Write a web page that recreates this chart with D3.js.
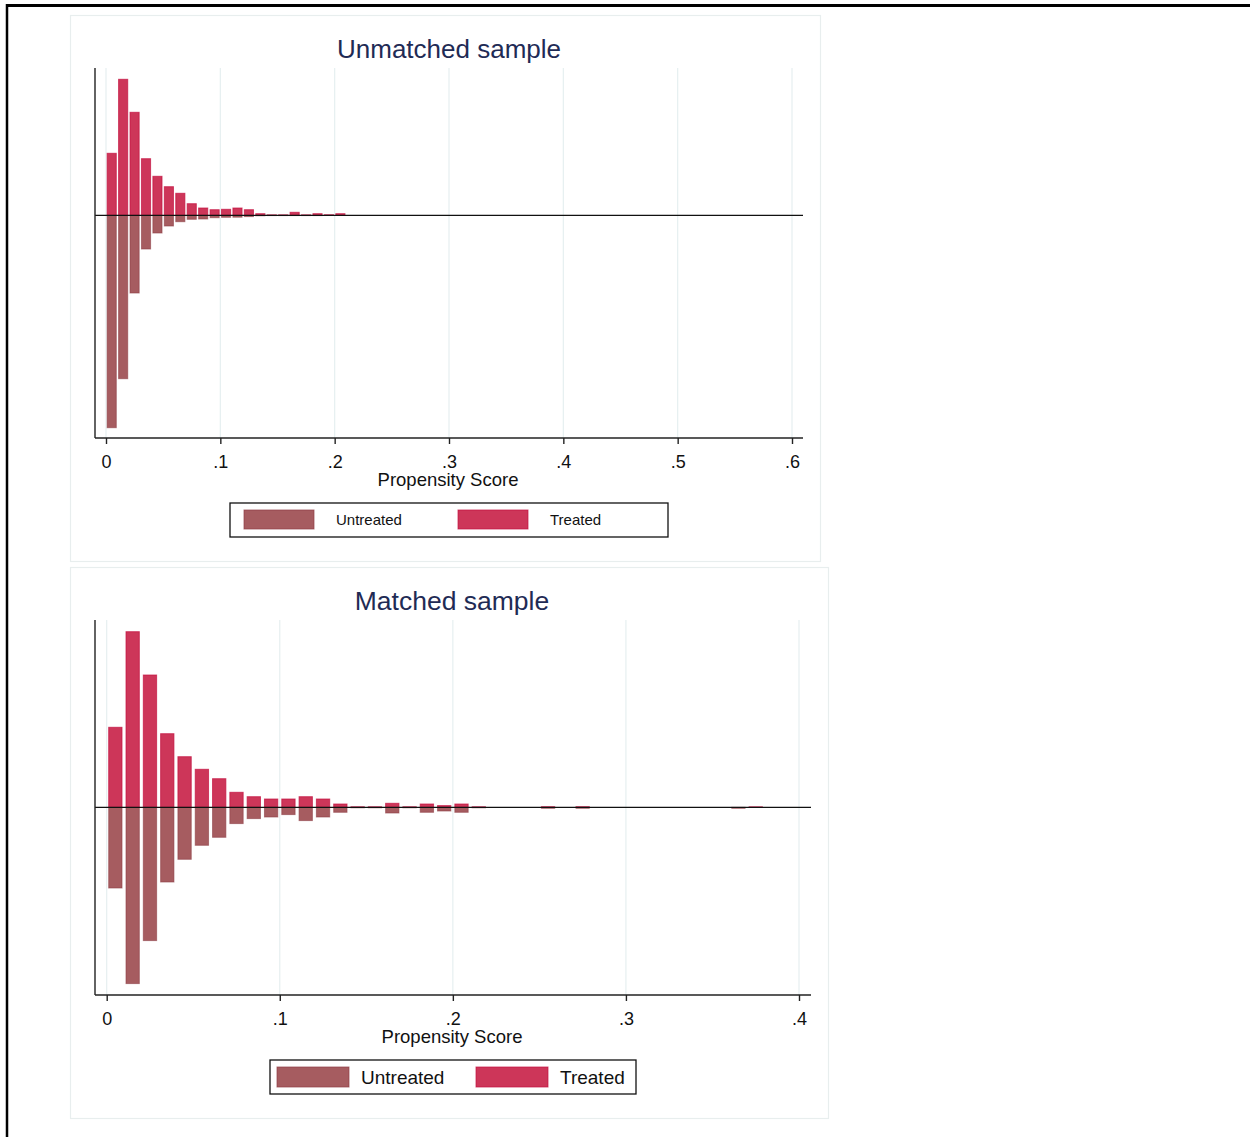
<!DOCTYPE html>
<html><head><meta charset="utf-8">
<script src="https://cdn.jsdelivr.net/npm/d3@7"></script>
<style>body{margin:0;background:#fff}svg{display:block}text{font-family:"Liberation Sans",Arial,sans-serif}</style>
</head><body>
<script>
// ---- data ----
const binWidth = 0.01;
const unmatchedBins = [0.005,0.015,0.025,0.035,0.045,0.055,0.065,0.075,0.085,0.095,0.105,0.115,0.125,0.135,0.145,0.155,0.165,0.175,0.185,0.195,0.205];
const unmatchedTreated = [6.2,13.6,10.3,5.66,3.9,2.86,2.2,1.16,0.73,0.56,0.6,0.73,0.56,0.16,0.04,0.04,0.3,0.04,0.16,0.05,0.16];
const unmatchedUntreated = [21.24,16.34,7.77,3.37,1.77,1.07,0.64,0.4,0.37,0.24,0.2,0.19,0.13,0.05,0.03,0.03,0.03,0.03,0.03,0.02,0.02];
const matchedBins = [0.005,0.015,0.025,0.035,0.045,0.055,0.065,0.075,0.085,0.095,0.105,0.115,0.125,0.135,0.145,0.155,0.165,0.175,0.185,0.195,0.205,0.215,0.255,0.275,0.365,0.375];
const matchedTreated = [8.0,17.56,13.23,7.36,5.06,3.8,2.86,1.5,1.06,0.83,0.83,1.06,0.83,0.33,0.05,0.05,0.4,0.05,0.33,0.17,0.33,0.05,0.06,0.06,0,0.05];
const matchedUntreated = [8.07,17.63,13.33,7.47,5.2,3.8,3.0,1.63,1.13,0.97,0.73,1.33,0.97,0.5,0.05,0.05,0.57,0.05,0.5,0.37,0.5,0.05,0.1,0.1,0.1,0];
const unmatchedTicks = [0,0.1,0.2,0.3,0.4,0.5,0.6];
const matchedTicks = [0,0.1,0.2,0.3,0.4];
const tickFmt = v => v === 0 ? "0" : d3.format(".1f")(v).replace(/^0/, "");
const legendLabels = ["Untreated","Treated"];
const titles = ["Unmatched sample","Matched sample"];
const xTitle = "Propensity Score";

// ---- styles ----
const C = {
  treatedFill:"#cd3659", treatedStroke:"#c3103f",
  untreatedFill:"#a65c60", untreatedStroke:"#8e3d44",
  grid:"#e6eff0", panel:"#e8eeee", axis:"#222", title:"#1f2b55"
};

const svg = d3.select("body").append("svg").attr("width",1250).attr("height",1137);

// outer frame
svg.append("line").attr("x1",6).attr("x2",1250).attr("y1",5.5).attr("y2",5.5).attr("stroke","#000").attr("stroke-width",3);
svg.append("line").attr("x1",7).attr("x2",7).attr("y1",4).attr("y2",1137).attr("stroke","#000").attr("stroke-width",2.5);

function panel(cfg) {
  const g = svg.append("g");
  g.append("rect").attr("x",cfg.px).attr("y",cfg.py).attr("width",cfg.pw).attr("height",cfg.ph)
    .attr("fill","#fff").attr("stroke",C.panel).attr("stroke-width",1.2);
  const x = d3.scaleLinear().domain(cfg.xDomain).range(cfg.xRange);
  const y = d3.scaleLinear().domain(cfg.yDomain).range([cfg.axisY, cfg.plotTop]);
  // gridlines
  g.selectAll(".grid").data(cfg.ticks).enter().append("line")
    .attr("x1",d=>x(d)).attr("x2",d=>x(d)).attr("y1",cfg.plotTop).attr("y2",cfg.axisY)
    .attr("stroke",C.grid).attr("stroke-width",1.2);
  // title
  g.append("text").attr("x",cfg.titleX).attr("y",cfg.titleY).attr("text-anchor","middle")
    .attr("font-size",cfg.titleSize).attr("fill",C.title).text(cfg.title);
  const bw = binWidth*cfg.barFrac;
  // untreated (below)
  g.selectAll(".u").data(cfg.bins.map((b,i)=>({b,v:cfg.untreated[i]})).filter(d=>d.v>0)).enter().append("rect")
    .attr("x",d=>x(d.b-bw/2)).attr("width",d=>x(d.b+bw/2)-x(d.b-bw/2))
    .attr("y",y(0)).attr("height",d=>y(-d.v)-y(0))
    .attr("fill",C.untreatedFill).attr("stroke",C.untreatedStroke).attr("stroke-width",1).attr("stroke-opacity",0.6);
  // treated (above)
  g.selectAll(".t").data(cfg.bins.map((b,i)=>({b,v:cfg.treated[i]})).filter(d=>d.v>0)).enter().append("rect")
    .attr("x",d=>x(d.b-bw/2)).attr("width",d=>x(d.b+bw/2)-x(d.b-bw/2))
    .attr("y",d=>y(d.v)).attr("height",d=>y(0)-y(d.v))
    .attr("fill",C.treatedFill).attr("stroke",C.treatedStroke).attr("stroke-width",1).attr("stroke-opacity",0.7);
  // zero line
  g.append("line").attr("x1",cfg.axisX).attr("x2",cfg.axisEnd).attr("y1",y(0)).attr("y2",y(0))
    .attr("stroke","#111").attr("stroke-width",1.2);
  // y axis
  g.append("line").attr("x1",cfg.axisX).attr("x2",cfg.axisX).attr("y1",cfg.plotTop).attr("y2",cfg.axisY)
    .attr("stroke",C.axis).attr("stroke-width",1.4);
  // x axis
  const ax = g.append("g").attr("transform",`translate(0,${cfg.axisY})`)
    .call(d3.axisBottom(x).tickValues(cfg.ticks).tickFormat(tickFmt).tickSize(6).tickPadding(11).tickSizeOuter(0));
  ax.select(".domain").remove();
  ax.insert("line",":first-child").attr("x1",cfg.axisX).attr("x2",cfg.axisEnd).attr("stroke",C.axis).attr("stroke-width",1.4);
  ax.selectAll(".tick line").attr("stroke",C.axis).attr("stroke-width",1.4);
  ax.selectAll(".tick text").attr("font-size",cfg.tickSize).attr("fill","#111").attr("font-family","Liberation Sans, Arial, sans-serif");
  g.append("text").attr("x",cfg.xTitleX).attr("y",cfg.xTitleY).attr("text-anchor","middle")
    .attr("font-size",cfg.xTitleSize).attr("fill","#111").text(xTitle);
  // legend
  const L = cfg.legend;
  g.append("rect").attr("x",L.x).attr("y",L.y).attr("width",L.w).attr("height",L.h)
    .attr("fill","#fff").attr("stroke","#111").attr("stroke-width",1.3);
  const items = [{f:C.untreatedFill,s:C.untreatedStroke},{f:C.treatedFill,s:C.treatedStroke}];
  items.forEach((it,i)=>{
    g.append("rect").attr("x",L.sx[i]).attr("y",L.y+L.sy).attr("width",L.sw).attr("height",L.sh)
      .attr("fill",it.f).attr("stroke",it.s).attr("stroke-width",1).attr("stroke-opacity",0.7);
    g.append("text").attr("x",L.tx[i]).attr("y",L.ty).attr("font-size",L.fs).attr("fill","#111").text(legendLabels[i]);
  });
}

panel({
  px:70.5, py:15.5, pw:750, ph:546,
  xDomain:[0,0.6], xRange:[106,792], yDomain:[-22.27,14.73], axisY:438, plotTop:68, axisX:95, axisEnd:803,
  ticks:unmatchedTicks, bins:unmatchedBins, treated:unmatchedTreated, untreated:unmatchedUntreated, barFrac:0.8,
  title:titles[0], titleX:449, titleY:58, titleSize:26,
  tickSize:18, xTitleX:448, xTitleY:486, xTitleSize:18.5,
  legend:{x:230,y:503,w:438,h:34,sx:[244,458],sy:7,sw:70,sh:19,tx:[336,550],ty:525,fs:15}
});
panel({
  px:70.5, py:567.5, pw:758, ph:551,
  xDomain:[0,0.4], xRange:[106.7,799], yDomain:[-18.77,18.73], axisY:995, plotTop:620, axisX:95, axisEnd:811,
  ticks:matchedTicks, bins:matchedBins, treated:matchedTreated, untreated:matchedUntreated, barFrac:0.77,
  title:titles[1], titleX:452, titleY:610, titleSize:26.5,
  tickSize:18, xTitleX:452, xTitleY:1043, xTitleSize:18.5,
  legend:{x:270,y:1060,w:366,h:34,sx:[277,476],sy:7,sw:72,sh:20,tx:[361,560],ty:1084,fs:19}
});
</script>
</body></html>
